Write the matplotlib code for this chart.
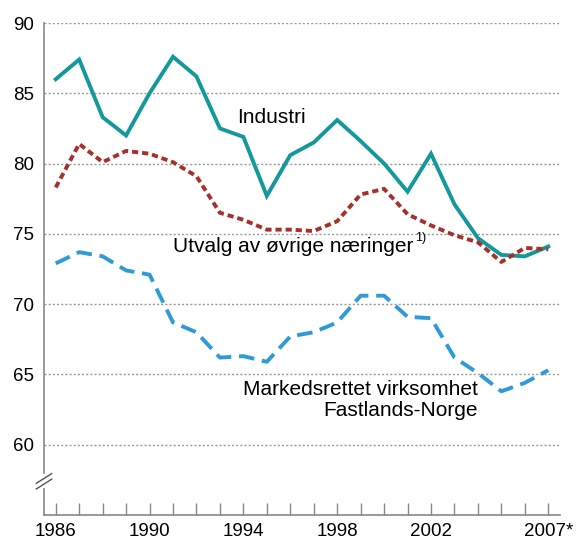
import matplotlib
matplotlib.use("Agg")
import matplotlib.pyplot as plt
import numpy as np

plt.rcParams['font.family'] = ['Liberation Sans', 'DejaVu Sans']

years = list(range(1986, 2008))
industri = [86.0, 87.4, 83.3, 82.0, 85.0, 87.6, 86.2, 82.5, 81.9, 77.7, 80.6,
            81.5, 83.1, 81.6, 80.0, 78.0, 80.7, 77.1, 74.7, 73.5, 73.4, 74.1]
utvalg = [78.3, 81.4, 80.1, 80.9, 80.7, 80.1, 79.1, 76.5, 76.0, 75.3, 75.3,
          75.2, 75.9, 77.8, 78.2, 76.4, 75.6, 74.9, 74.4, 73.0, 74.0, 73.9]
markeds = [72.9, 73.7, 73.4, 72.4, 72.1, 68.7, 68.0, 66.2, 66.3, 65.9, 67.7,
           68.0, 68.7, 70.6, 70.6, 69.1, 69.0, 66.2, 65.1, 63.8, 64.4, 65.3]
xtick_years = [1986, 1990, 1994, 1998, 2002, 2007]
xtick_labels = ["1986", "1990", "1994", "1998", "2002", "2007*"]
yticks = [60, 65, 70, 75, 80, 85, 90]

fig = plt.figure(figsize=(5.78, 5.43), dpi=100)
ax = fig.add_axes([44/578, 1-515/543, (560-44)/578, (515-23)/543])

for y in yticks:
    ax.axhline(y, color='#9a9a9a', lw=1.0, ls=(0, (1.5, 1.5)), zorder=1)

ax.plot(years, industri, color='#13999b', lw=2.8, solid_joinstyle='miter', zorder=3)
ax.plot(years, utvalg, color='#a7302a', lw=2.8, ls=(0, (1.6, 1.0)), zorder=3)
ax.plot(years, markeds, color='#2f9bd6', lw=2.8, ls=(0, (4.0, 2.0)), zorder=3)

ax.set_xlim(1985.5, 2007.5)
ax.set_ylim(55, 90)

ax.set_xticks(years)
ax.set_xticklabels([xtick_labels[xtick_years.index(y)] if y in xtick_years else "" for y in years])
ax.set_yticks(yticks)
ax.tick_params(axis='x', direction='in', length=8.5, width=1.0, color='#888888',
               labelsize=13.5, pad=6)
ax.tick_params(axis='y', length=0, labelsize=13.5, pad=7)

for s in ['top', 'right']:
    ax.spines[s].set_visible(False)
for s in ['left', 'bottom']:
    ax.spines[s].set_color('#888888')
    ax.spines[s].set_linewidth(1.2)

# axis break marks
yb = 57.4
ax.plot([1985.5, 1985.5], [yb - 0.35, yb + 0.35], color='white', lw=3, clip_on=False, zorder=5)
for dy in (-0.2, 0.2):
    ax.plot([1985.17, 1985.83], [yb + dy - 0.35, yb + dy + 0.35], color='#555555', lw=1.0,
            clip_on=False, zorder=6)

fs = 15
ax.text(1995.2, 83.3, "Industri", fontsize=fs, ha='center', va='center')
t = ax.text(1991.0, 74.1, "Utvalg av øvrige næringer", fontsize=fs, ha='left', va='center')
ax.annotate("1)", xy=(1.0, 0.62), xycoords=t, xytext=(1, 0), textcoords='offset points',
            fontsize=9, ha='left', va='bottom')
ax.text(2004.0, 63.9, "Markedsrettet virksomhet", fontsize=fs, ha='right', va='center')
ax.text(2004.0, 62.45, "Fastlands-Norge", fontsize=fs, ha='right', va='center')

fig.savefig("out.png", dpi=100)
